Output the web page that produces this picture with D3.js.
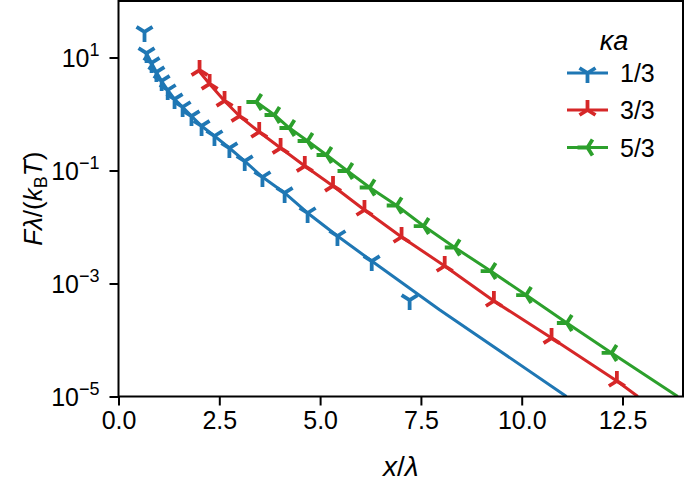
<!DOCTYPE html>
<html><head><meta charset="utf-8">
<script src="https://cdn.jsdelivr.net/npm/d3@7"></script>
<style>
body{margin:0;background:#fff}
svg{display:block}
text{font-family:"Liberation Sans",Arial,sans-serif;fill:#000}
</style>
</head><body>
<svg id="chart" width="685" height="484"></svg>
<script>
// ---- data ----
const seriesNames = ["1/3", "3/3", "5/3"];
const seriesColors = ["#1f77b4", "#d62728", "#2ca02c"];
const seriesMarkers = ["tri_down", "tri_up", "tri_left"];

const blueMarkX = [0.645,0.695,0.82,0.94,1.07,1.22,1.39,1.59,1.81,2.06,2.38,2.75,3.13,3.57,4.12,4.69,5.43,6.28,7.22];
const blueMarkY = [28.3,12.0,8.0,5.53,3.84,2.66,1.84,1.33,0.92,0.614,0.408,0.25,0.147,0.0767,0.040,0.0177,0.00693,0.0025,5.1e-4];
const blueLineX = [0.69,0.82,0.94,1.07,1.22,1.39,1.59,1.81,2.06,2.38,2.75,3.13,3.57,4.12,4.69,5.43,6.28,7.97,11.11];
const blueLineY = [12.0,8.0,5.53,3.84,2.66,1.84,1.33,0.92,0.614,0.408,0.25,0.147,0.0767,0.040,0.0177,0.00693,0.0025,3.4e-4,1e-5];

const redMarkX = [2.01,2.26,2.63,3.0,3.49,4.02,4.62,5.32,6.10,7.02,8.09,9.31,10.74,12.36];
const redMarkY = [6.0,3.4,1.7,0.92,0.48,0.25,0.12,0.0532,0.020,0.00665,0.00204,4.9e-4,1.08e-4,1.88e-5];
const redLineX = [2.01,2.26,2.63,3.0,3.49,4.02,4.62,5.32,6.10,7.02,8.09,9.31,10.74,12.36,12.88];
const redLineY = [5.6,3.4,1.7,0.92,0.48,0.25,0.12,0.0532,0.020,0.00665,0.00204,4.9e-4,1.08e-4,1.88e-5,1e-5];

const greenMarkX = [3.42,3.87,4.24,4.69,5.16,5.68,6.23,6.90,7.57,8.34,9.23,10.11,11.12,12.23];
const greenMarkY = [1.63,0.96,0.565,0.333,0.188,0.098,0.050,0.024,0.0104,0.00434,0.00166,6.25e-4,2.0e-4,5.9e-5];
const greenLineX = [3.42,3.87,4.24,4.69,5.16,5.68,6.23,6.90,7.57,8.34,9.23,10.11,11.12,12.23,13.87];
const greenLineY = [1.63,0.96,0.565,0.333,0.188,0.098,0.050,0.024,0.0104,0.00434,0.00166,6.25e-4,2.0e-4,5.9e-5,1e-5];

const xTicks = [0, 2.5, 5, 7.5, 10, 12.5];
const xTickLabels = ["0.0", "2.5", "5.0", "7.5", "10.0", "12.5"];
const yTicks = [1e1, 1e-1, 1e-3, 1e-5];
const yTickExps = ["1", "\u22121", "\u22123", "\u22125"];
const xDomain = [0, 14];
const yDomain = [1e-5, 1e2];
const legendTitle = "\u03BAa";

// ---- layout ----
const W = 685, H = 484;
const m = {left: 118.5, right: 2, top: 1, bottom: 87.5};
const svg = d3.select("#chart");
const x = d3.scaleLinear().domain(xDomain).range([m.left, W - m.right]);
const y = d3.scaleLog().domain(yDomain).range([H - m.bottom, m.top]);

const series = [
  {mx: blueMarkX, my: blueMarkY, lx: blueLineX, ly: blueLineY},
  {mx: redMarkX, my: redMarkY, lx: redLineX, ly: redLineY},
  {mx: greenMarkX, my: greenMarkY, lx: greenLineX, ly: greenLineY}
];

// matplotlib-style tri markers (arms: 1 long, 0.8/0.5 side arms)
function markerPath(type, r) {
  const a = 0.8 * r, b = 0.5 * r;
  if (type === "tri_down") return `M0,0L0,${r}M0,0L${-a},${-b}M0,0L${a},${-b}`;
  if (type === "tri_up") return `M0,0L0,${-r}M0,0L${-a},${b}M0,0L${a},${b}`;
  if (type === "tri_left") return `M0,0L${-r},0M0,0L${b},${-a}M0,0L${b},${a}`;
  return `M0,0L${r},0M0,0L${-b},${-a}M0,0L${-b},${a}`;
}
const R = 10, MW = 3.8, LW = 3;

svg.append("defs").append("clipPath").attr("id", "clip")
  .append("rect").attr("x", m.left).attr("y", m.top)
  .attr("width", W - m.right - m.left).attr("height", H - m.bottom - m.top);

const plot = svg.append("g").attr("clip-path", "url(#clip)");
const line = d3.line().x(d => x(d[0])).y(d => y(d[1]));

series.forEach((s, i) => {
  const pts = s.lx.map((v, k) => [v, s.ly[k]]);
  plot.append("path").attr("d", line(pts)).attr("fill", "none")
    .attr("stroke", seriesColors[i]).attr("stroke-width", LW)
    .attr("stroke-linejoin", "round").attr("stroke-linecap", "butt");
  plot.selectAll(null).data(s.mx.map((v, k) => [v, s.my[k]])).enter()
    .append("path").attr("d", markerPath(seriesMarkers[i], R))
    .attr("transform", d => `translate(${x(d[0])},${y(d[1])})`)
    .attr("fill", "none").attr("stroke", seriesColors[i]).attr("stroke-width", MW);
});

// ---- axes ----
const fs = 25;
const xAxis = d3.axisBottom(x).tickValues(xTicks).tickSize(9).tickPadding(6)
  .tickFormat((d, i) => xTickLabels[i]);
const gx = svg.append("g").attr("transform", `translate(0,${H - m.bottom})`).call(xAxis);
gx.select(".domain").remove();
gx.selectAll(".tick line").attr("stroke", "#000").attr("stroke-width", 2);
gx.selectAll(".tick text").attr("font-size", fs).attr("font-family", "Liberation Sans, Arial, sans-serif");

const yAxis = d3.axisLeft(y).tickValues(yTicks).tickSize(9).tickPadding(10).tickFormat(() => "");
const gy = svg.append("g").attr("transform", `translate(${m.left},0)`).call(yAxis);
gy.select(".domain").remove();
gy.selectAll(".tick line").attr("stroke", "#000").attr("stroke-width", 2);
gy.selectAll(".tick text").each(function(d, i) {
  const t = d3.select(this).attr("font-size", fs).attr("dy", "0.36em")
    .attr("font-family", "Liberation Sans, Arial, sans-serif");
  t.text(null);
  t.append("tspan").text("10");
  t.append("tspan").attr("font-size", 18).attr("dy", "-0.62em").text(yTickExps[i]);
});

// frame
svg.append("rect").attr("x", m.left).attr("y", m.top)
  .attr("width", W - m.right - m.left).attr("height", H - m.bottom - m.top)
  .attr("fill", "none").attr("stroke", "#000").attr("stroke-width", 2);

// axis labels
const xl = svg.append("text").attr("x", (m.left + W - m.right) / 2).attr("y", 476)
  .attr("text-anchor", "middle").attr("font-size", 28);
xl.append("tspan").attr("font-style", "italic").text("x");
xl.append("tspan").text("/");
xl.append("tspan").attr("font-style", "italic").text("\u03BB");

const yl = svg.append("text").attr("transform", `translate(42,${(m.top + H - m.bottom) / 2}) rotate(-90)`)
  .attr("text-anchor", "middle").attr("font-size", 26);
yl.append("tspan").attr("font-style", "italic").text("F\u03BB");
yl.append("tspan").text("/(");
yl.append("tspan").attr("font-style", "italic").text("k");
yl.append("tspan").attr("font-size", 18).attr("dy", "0.25em").text("B");
yl.append("tspan").attr("font-style", "italic").attr("dy", "-0.18em").text("T");
yl.append("tspan").text(")");

// legend
const lg = svg.append("g");
lg.append("text").attr("x", 614).attr("y", 50).attr("text-anchor", "middle")
  .attr("font-size", 27).attr("font-style", "italic").text(legendTitle);
const legY = [73, 110, 147.5];
seriesNames.forEach((n, i) => {
  lg.append("line").attr("x1", 567).attr("x2", 608).attr("y1", legY[i]).attr("y2", legY[i])
    .attr("stroke", seriesColors[i]).attr("stroke-width", LW);
  lg.append("path").attr("d", markerPath(seriesMarkers[i], R))
    .attr("transform", `translate(587.5,${legY[i]})`)
    .attr("fill", "none").attr("stroke", seriesColors[i]).attr("stroke-width", MW);
  lg.append("text").attr("x", 620).attr("y", legY[i]).attr("dy", "0.36em")
    .attr("font-size", fs).text(n);
});
</script>
</body></html>
